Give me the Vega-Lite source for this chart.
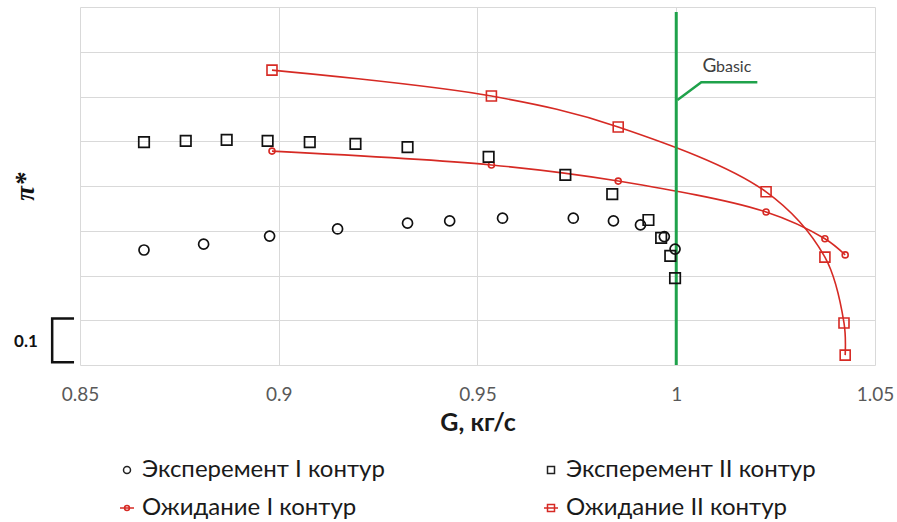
{
  "$schema": "https://vega.github.io/schema/vega-lite/v6.json",
  "width": 795,
  "height": 358,
  "autosize": {"type": "none"},
  "padding": {"left": 80, "top": 7, "right": 22, "bottom": 157},
  "background": "white",
  "config": {
    "view": {"stroke": null},
    "font": "Lato",
    "legend": {"padding": 0}
  },
  "datasets": {
    "pts": [
      {"series": "Эксперемент I контур", "G": 0.8661, "pi": 0.257},
      {"series": "Эксперемент I контур", "G": 0.8811, "pi": 0.270},
      {"series": "Эксперемент I контур", "G": 0.8977, "pi": 0.288},
      {"series": "Эксперемент I контур", "G": 0.9148, "pi": 0.304},
      {"series": "Эксперемент I контур", "G": 0.9324, "pi": 0.317},
      {"series": "Эксперемент I контур", "G": 0.9430, "pi": 0.322},
      {"series": "Эксперемент I контур", "G": 0.9563, "pi": 0.328},
      {"series": "Эксперемент I контур", "G": 0.9741, "pi": 0.328},
      {"series": "Эксперемент I контур", "G": 0.9842, "pi": 0.322},
      {"series": "Эксперемент I контур", "G": 0.9910, "pi": 0.313},
      {"series": "Эксперемент I контур", "G": 0.9970, "pi": 0.287},
      {"series": "Эксперемент I контур", "G": 0.9997, "pi": 0.259},
      {"series": "Эксперемент II контур", "G": 0.8661, "pi": 0.498},
      {"series": "Эксперемент II контур", "G": 0.8766, "pi": 0.501},
      {"series": "Эксперемент II контур", "G": 0.8869, "pi": 0.503},
      {"series": "Эксперемент II контур", "G": 0.8972, "pi": 0.501},
      {"series": "Эксперемент II контур", "G": 0.9078, "pi": 0.498},
      {"series": "Эксперемент II контур", "G": 0.9193, "pi": 0.494},
      {"series": "Эксперемент II контур", "G": 0.9324, "pi": 0.487},
      {"series": "Эксперемент II контур", "G": 0.9528, "pi": 0.465},
      {"series": "Эксперемент II контур", "G": 0.9721, "pi": 0.425},
      {"series": "Эксперемент II контур", "G": 0.9839, "pi": 0.382},
      {"series": "Эксперемент II контур", "G": 0.9930, "pi": 0.324},
      {"series": "Эксперемент II контур", "G": 0.9962, "pi": 0.284},
      {"series": "Эксперемент II контур", "G": 0.9985, "pi": 0.244},
      {"series": "Эксперемент II контур", "G": 0.9997, "pi": 0.194},
      {"series": "Ожидание I контур", "G": 0.8983, "pi": 0.478},
      {"series": "Ожидание I контур", "G": 0.9535, "pi": 0.447},
      {"series": "Ожидание I контур", "G": 0.9854, "pi": 0.411},
      {"series": "Ожидание I контур", "G": 1.0226, "pi": 0.342},
      {"series": "Ожидание I контур", "G": 1.0374, "pi": 0.282},
      {"series": "Ожидание I контур", "G": 1.0425, "pi": 0.246},
      {"series": "Ожидание II контур", "G": 0.8983, "pi": 0.659},
      {"series": "Ожидание II контур", "G": 0.9535, "pi": 0.601},
      {"series": "Ожидание II контур", "G": 0.9854, "pi": 0.532},
      {"series": "Ожидание II контур", "G": 1.0226, "pi": 0.387},
      {"series": "Ожидание II контур", "G": 1.0374, "pi": 0.241},
      {"series": "Ожидание II контур", "G": 1.0422, "pi": 0.094},
      {"series": "Ожидание II контур", "G": 1.0425, "pi": 0.022}
    ],
    "gbasic": [{"G": 1.0, "lo": 0.0, "hi": 0.789}],
    "leader": [
      {"k": 1, "G": 1.0003, "pi": 0.592},
      {"k": 2, "G": 1.0063, "pi": 0.632},
      {"k": 3, "G": 1.0204, "pi": 0.632}
    ],
    "bracket": [
      {"k": 1, "G": 0.8485, "pi": 0.104},
      {"k": 2, "G": 0.8430, "pi": 0.104},
      {"k": 3, "G": 0.8430, "pi": 0.006},
      {"k": 4, "G": 0.8485, "pi": 0.006}
    ],
    "notes": [
      {"kind": "G", "t": "G", "G": 1.0066, "pi": 0.655},
      {"kind": "basic", "t": "basic", "G": 1.0100, "pi": 0.655},
      {"kind": "scale", "t": "0.1", "G": 0.8364, "pi": 0.051}
    ]
  },
  "layer": [
    {
      "data": {"name": "pts"},
      "transform": [{"filter": "datum.series == 'Ожидание I контур' || datum.series == 'Ожидание II контур'"}],
      "mark": {"type": "line", "interpolate": "catmull-rom", "color": "#d62a24", "strokeWidth": 1.6},
      "encoding": {
        "x": {"field": "G", "type": "quantitative", "scale": {"domain": [0.85, 1.05], "nice": false, "zero": false},
          "axis": {"values": [0.85, 0.9, 0.95, 1, 1.05], "format": ".2~f", "grid": true, "gridColor": "#d9d9d9", "domain": false, "ticks": false,
            "labelFlush": false, "labelColor": "#595959", "labelFont": "Lato", "labelFontSize": 19, "labelPadding": 20,
            "title": "G, кг/с", "titleFont": "Lato", "titleFontSize": 25, "titleFontWeight": "bold", "titleColor": "#1a1a1a", "titlePadding": 6}},
        "y": {"field": "pi", "type": "quantitative", "scale": {"domain": [0, 0.8], "nice": false, "zero": false},
          "axis": {"values": [0, 0.1, 0.2, 0.3, 0.4, 0.5, 0.6, 0.7, 0.8], "labels": false, "ticks": false, "domain": false, "grid": true, "gridColor": "#d9d9d9",
            "title": "π*", "titleFont": "Liberation Serif", "titleFontStyle": "italic", "titleFontWeight": "bold", "titleFontSize": 27, "titleColor": "#111111", "titlePadding": 41}},
        "detail": {"field": "series"}
      }
    },
    {
      "data": {"name": "gbasic"},
      "mark": {"type": "rule", "color": "#1fa24b", "strokeWidth": 3},
      "encoding": {
        "x": {"field": "G", "type": "quantitative"},
        "y": {"field": "lo", "type": "quantitative"},
        "y2": {"field": "hi"}
      }
    },
    {
      "data": {"name": "leader"},
      "mark": {"type": "line", "color": "#1fa24b", "strokeWidth": 2.5},
      "encoding": {
        "x": {"field": "G", "type": "quantitative"},
        "y": {"field": "pi", "type": "quantitative"},
        "order": {"field": "k"}
      }
    },
    {
      "data": {"name": "notes"},
      "transform": [{"filter": "datum.kind == 'G'"}],
      "mark": {"type": "text", "align": "left", "baseline": "alphabetic", "font": "Lato", "fontSize": 19, "color": "#404040"},
      "encoding": {
        "x": {"field": "G", "type": "quantitative"},
        "y": {"field": "pi", "type": "quantitative"},
        "text": {"field": "t"}
      }
    },
    {
      "data": {"name": "notes"},
      "transform": [{"filter": "datum.kind == 'basic'"}],
      "mark": {"type": "text", "align": "left", "baseline": "alphabetic", "font": "Lato", "fontSize": 16, "color": "#404040"},
      "encoding": {
        "x": {"field": "G", "type": "quantitative"},
        "y": {"field": "pi", "type": "quantitative"},
        "text": {"field": "t"}
      }
    },
    {
      "data": {"name": "notes"},
      "transform": [{"filter": "datum.kind == 'scale'"}],
      "mark": {"type": "text", "align": "center", "baseline": "middle", "font": "Lato", "fontSize": 17, "fontWeight": "bold", "color": "#111111"},
      "encoding": {
        "x": {"field": "G", "type": "quantitative"},
        "y": {"field": "pi", "type": "quantitative"},
        "text": {"field": "t"}
      }
    },
    {
      "data": {"name": "bracket"},
      "mark": {"type": "line", "color": "#111111", "strokeWidth": 2.5},
      "encoding": {
        "x": {"field": "G", "type": "quantitative"},
        "y": {"field": "pi", "type": "quantitative"},
        "order": {"field": "k"}
      }
    },
    {
      "data": {"name": "pts"},
      "transform": [{"filter": "datum.series == 'Ожидание I контур'"}],
      "mark": {"type": "point", "shape": "circle", "filled": false, "color": "#d62a24", "size": 36, "strokeWidth": 1.6, "opacity": 1},
      "encoding": {
        "x": {"field": "G", "type": "quantitative"},
        "y": {"field": "pi", "type": "quantitative"}
      }
    },
    {
      "data": {"name": "pts"},
      "transform": [{"filter": "datum.series == 'Ожидание II контур'"}],
      "mark": {"type": "point", "shape": "square", "filled": false, "color": "#d62a24", "size": 100, "strokeWidth": 1.6, "opacity": 1},
      "encoding": {
        "x": {"field": "G", "type": "quantitative"},
        "y": {"field": "pi", "type": "quantitative"}
      }
    },
    {
      "data": {"name": "pts"},
      "transform": [{"filter": "datum.series == 'Эксперемент I контур'"}],
      "mark": {"type": "point", "shape": "circle", "filled": false, "color": "#111111", "size": 100, "strokeWidth": 1.7, "opacity": 1},
      "encoding": {
        "x": {"field": "G", "type": "quantitative"},
        "y": {"field": "pi", "type": "quantitative"}
      }
    },
    {
      "data": {"name": "pts"},
      "transform": [{"filter": "datum.series == 'Эксперемент II контур'"}],
      "mark": {"type": "point", "shape": "square", "filled": false, "color": "#111111", "size": 110, "strokeWidth": 1.7, "opacity": 1},
      "encoding": {
        "x": {"field": "G", "type": "quantitative"},
        "y": {"field": "pi", "type": "quantitative"}
      }
    },
    {
      "data": {"name": "pts"},
      "transform": [{"filter": "datum.G > 5"}],
      "mark": {"type": "point", "filled": false, "strokeWidth": 1.5, "opacity": 1},
      "encoding": {
        "x": {"field": "G", "type": "quantitative"},
        "y": {"field": "pi", "type": "quantitative"},
        "color": {"field": "series", "type": "nominal",
          "scale": {"domain": ["Эксперемент I контур", "Ожидание I контур", "Эксперемент II контур", "Ожидание II контур"], "range": ["#222222", "#d62a24", "#222222", "#d62a24"]},
          "legend": {"orient": "none", "legendX": 35, "legendY": 451, "columns": 2, "columnPadding": 154, "rowPadding": 14, "symbolSize": 196, "symbolStrokeWidth": 1.5, "labelFont": "Lato", "labelFontSize": 24, "labelColor": "#1a1a1a", "labelOffset": 3, "labelLimit": 400, "title": null}},
        "shape": {"field": "series", "type": "nominal",
          "scale": {"domain": ["Эксперемент I контур", "Ожидание I контур", "Эксперемент II контур", "Ожидание II контур"],
            "range": ["M0.5,0A0.5,0.5,0,1,1,-0.5,0A0.5,0.5,0,1,1,0.5,0Z", "M-1,0H1M0.35,0A0.35,0.35,0,1,1,-0.35,0A0.35,0.35,0,1,1,0.35,0Z", "M-0.5,-0.5H0.5V0.5H-0.5Z", "M-1,0H1M-0.5,-0.5H0.5V0.5H-0.5Z"]},
          "legend": {"orient": "none", "legendX": 35, "legendY": 451, "columns": 2, "columnPadding": 154, "rowPadding": 14, "symbolSize": 196, "symbolStrokeWidth": 1.5, "labelFont": "Lato", "labelFontSize": 24, "labelColor": "#1a1a1a", "labelOffset": 3, "labelLimit": 400, "title": null}}
      }
    }
  ]
}
